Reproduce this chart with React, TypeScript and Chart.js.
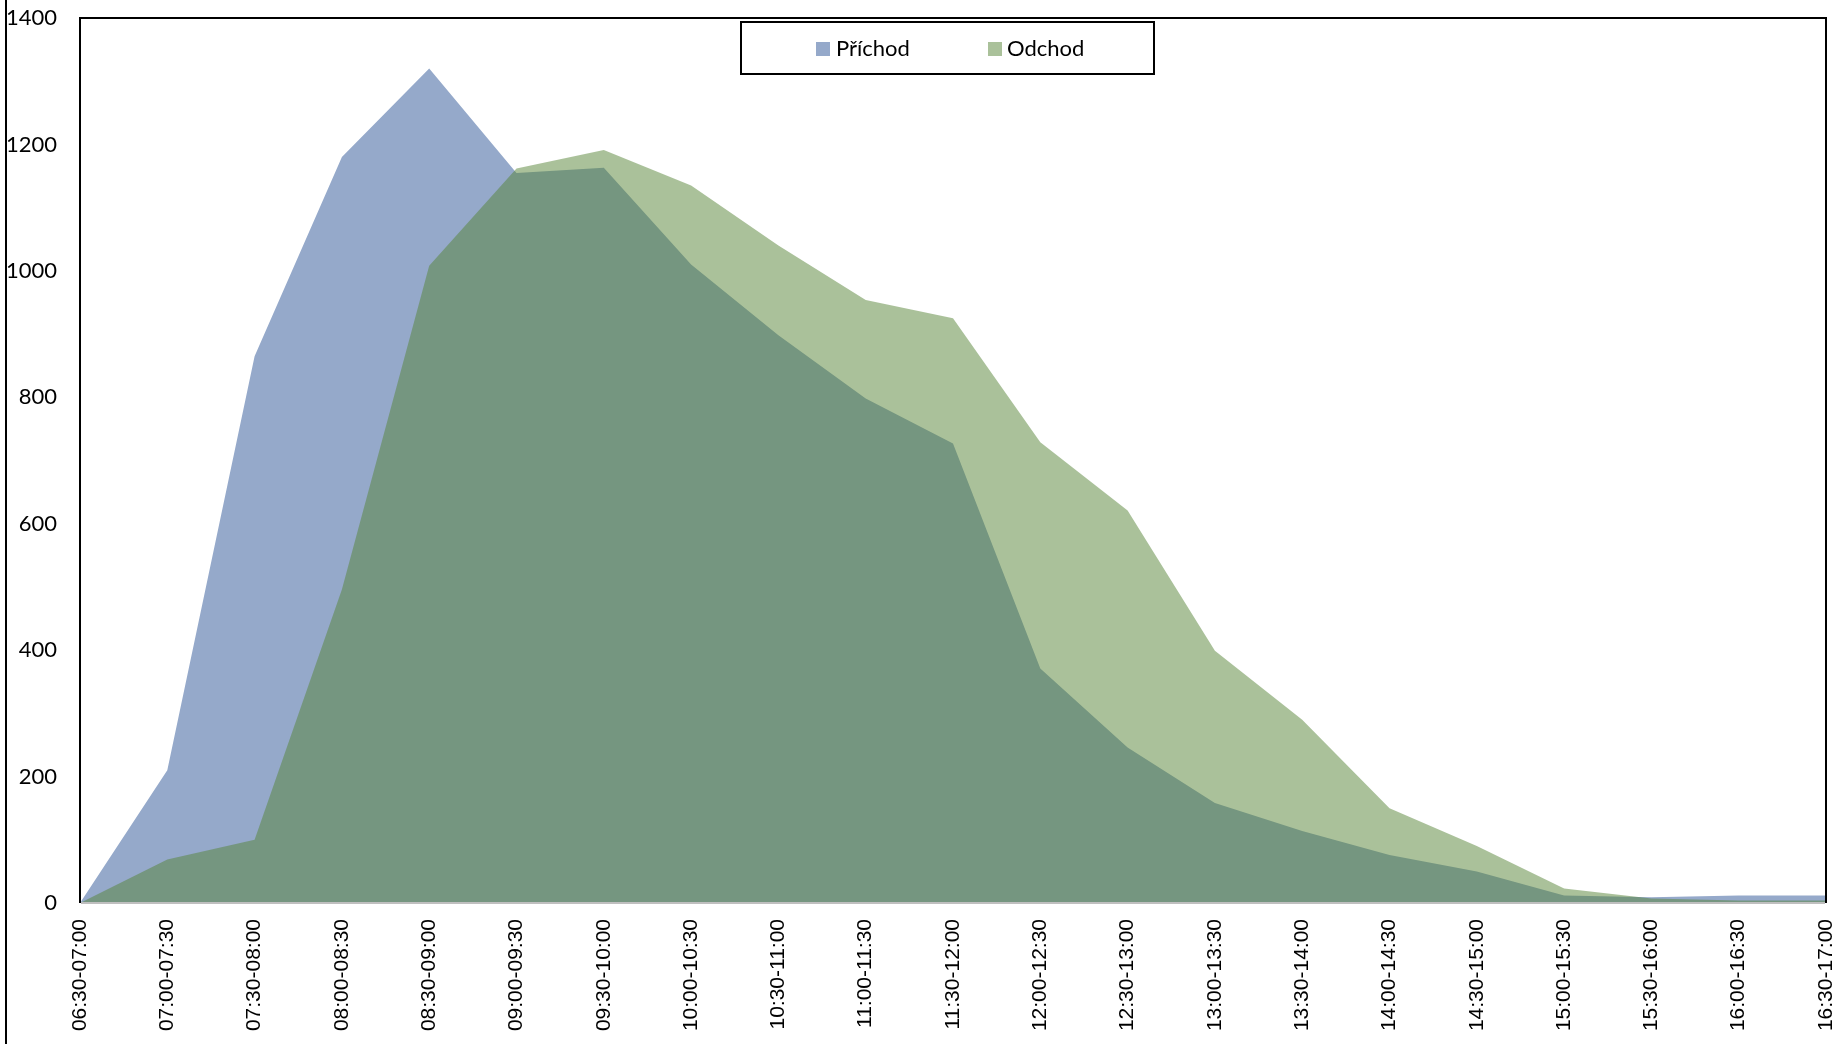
import React, { useEffect, useRef } from "react";
import { Chart, registerables } from "chart.js";

Chart.register(...registerables);

const categories = [
  "06:30-07:00", "07:00-07:30", "07:30-08:00", "08:00-08:30", "08:30-09:00",
  "09:00-09:30", "09:30-10:00", "10:00-10:30", "10:30-11:00", "11:00-11:30",
  "11:30-12:00", "12:00-12:30", "12:30-13:00", "13:00-13:30", "13:30-14:00",
  "14:00-14:30", "14:30-15:00", "15:00-15:30", "15:30-16:00", "16:00-16:30",
  "16:30-17:00",
];

const prichod = [0, 210, 865, 1180, 1320, 1155, 1163, 1010, 898, 798, 727, 371, 246, 158, 114, 76, 50, 12, 9, 12, 12];
const odchod = [0, 69, 100, 496, 1008, 1162, 1191, 1135, 1040, 954, 925, 729, 621, 399, 290, 150, 90, 23, 7, 4, 4];

const seriesNames = ["Příchod", "Odchod"];
const yMin = 0;
const yMax = 1400;
const yStep = 200;

const BLUE = "rgb(149,169,202)";
const GREEN = "rgba(85,131,53,0.5)";
const GREEN_LEGEND = "rgb(170,193,154)";

const framePlugin = {
  id: "framePlugin",
  afterDraw(chart: any) {
    const ctx = chart.ctx;
    const a = chart.chartArea;
    ctx.save();
    // outer frame (left edge)
    ctx.strokeStyle = "#000";
    ctx.lineWidth = 2;
    ctx.beginPath();
    ctx.moveTo(6, 0);
    ctx.lineTo(6, chart.height);
    ctx.stroke();
    // plot area border
    ctx.beginPath();
    ctx.moveTo(a.left, a.bottom);
    ctx.lineTo(a.left, a.top);
    ctx.lineTo(a.right, a.top);
    ctx.lineTo(a.right, a.bottom);
    ctx.stroke();
    // zero line
    ctx.strokeStyle = "#bfbfbf";
    ctx.lineWidth = 2;
    ctx.beginPath();
    ctx.moveTo(a.left + 1, a.bottom);
    ctx.lineTo(a.right - 1, a.bottom);
    ctx.stroke();
    // legend
    const bx = 741, by = 22, bw = 413, bh = 52;
    ctx.fillStyle = "#fff";
    ctx.fillRect(bx, by, bw, bh);
    ctx.strokeStyle = "#000";
    ctx.lineWidth = 2;
    ctx.strokeRect(bx, by, bw, bh);
    ctx.font = "22px Lato";
    ctx.textBaseline = "middle";
    ctx.textAlign = "left";
    ctx.fillStyle = BLUE;
    ctx.fillRect(816, 42, 14, 14);
    ctx.fillStyle = "#000";
    ctx.fillText(seriesNames[0], 836, 49);
    ctx.fillStyle = GREEN_LEGEND;
    ctx.fillRect(988, 42, 14, 14);
    ctx.fillStyle = "#000";
    ctx.fillText(seriesNames[1], 1007, 49);
    ctx.restore();
  },
};

export default function App() {
  const ref = useRef<HTMLCanvasElement | null>(null);

  useEffect(() => {
    if (!ref.current) return;
    const chart = new Chart(ref.current, {
      type: "line",
      data: {
        labels: categories,
        datasets: [
          {
            label: seriesNames[0],
            data: prichod,
            backgroundColor: BLUE,
            borderWidth: 0,
            pointRadius: 0,
            fill: "origin",
            tension: 0,
            order: 1,
          },
          {
            label: seriesNames[1],
            data: odchod,
            backgroundColor: GREEN,
            borderWidth: 0,
            pointRadius: 0,
            fill: "origin",
            tension: 0,
            order: 0,
          },
        ],
      },
      options: {
        animation: false,
        responsive: true,
        maintainAspectRatio: false,
        devicePixelRatio: 1,
        layout: { padding: { top: 18, right: 22, left: 0, bottom: 0 } },
        plugins: {
          legend: { display: false },
          tooltip: { enabled: false },
        },
        scales: {
          x: {
            type: "category",
            offset: false,
            grid: { display: false, drawTicks: false },
            border: { display: false },
            ticks: {
              autoSkip: false,
              maxRotation: 90,
              minRotation: 90,
              padding: 16,
              color: "#000",
              font: { family: "'Liberation Sans', Arial, sans-serif", size: 21 },
            },
            afterFit(scale: any) {
              scale.height = 141;
              scale.paddingLeft = 0;
              scale.paddingRight = 0;
            },
          },
          y: {
            min: yMin,
            max: yMax,
            grid: { display: false, drawTicks: false },
            border: { display: false },
            ticks: {
              stepSize: yStep,
              padding: 23,
              color: "#000",
              font: { family: "Lato, sans-serif", size: 22 },
              callback: (v: any) => String(v),
            },
            afterFit(scale: any) {
              scale.width = 80;
              scale.paddingTop = 0;
              scale.paddingBottom = 0;
            },
          },
        },
      },
      plugins: [framePlugin],
    });
    return () => chart.destroy();
  }, []);

  return (
    <div style={{ position: "fixed", left: 0, top: 0, width: 1848, height: 1044, background: "#fff" }}>
      <canvas ref={ref} />
    </div>
  );
}
